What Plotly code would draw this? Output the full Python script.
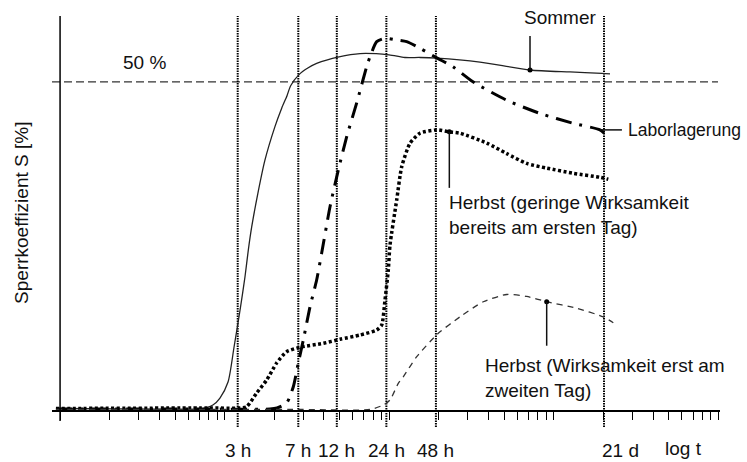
import math
import plotly.graph_objects as go

# Blocking coefficient S [%] versus storage time t (hours, log scale)

sommer_t = [0.236, 0.879, 1.77, 2.12, 2.34, 2.62, 2.85, 3.10, 3.32, 3.48, 3.65, 3.98, 4.39,
            5.05, 5.55, 5.98, 6.29, 7.07, 8.0, 9.05, 12.37, 16.6, 24.9, 31.1, 38.4, 48.7, 88.9,
            179, 313, 490, 548]
sommer_s = [0.38, 0.3, 0.3, 0.91, 1.97, 4.4, 9.72, 15.34, 20.35, 24.46, 28.0, 33.1, 38.1,
            43.2, 46.0, 47.9, 49.4, 51.1, 52.1, 52.8, 53.8, 54.3, 54.1, 53.7, 53.7, 53.6, 53.0,
            51.8, 51.5, 51.3, 51.2]

labor_t = [0.236, 1.77, 4.71, 5.20, 5.95, 6.53, 7.00, 7.51, 8.25, 9.05, 9.71, 10.91, 12.25,
           13.78, 15.85, 18.22, 19.09, 20.96, 23.54, 27.73, 31.88, 38.4, 48.9, 60.9, 80.6,
           129.2, 205.8, 328, 476, 525]
labor_s = [0.3, 0.3, 0.3, 0.46, 1.22, 3.69, 7.29, 10.78, 15.84, 19.9, 24.0, 31.03, 36.6,
           41.67, 46.8, 52.3, 53.8, 56.1, 56.6, 56.35, 56.1, 55.1, 53.6, 52.3, 50.0,
           47.2, 45.2, 43.7, 42.7, 41.8]

herbst1_t = [0.236, 1.77, 3.10, 3.40, 3.91, 4.50, 5.17, 5.95, 7.17, 9.93, 12.54, 16.6, 20.96,
             22.48, 23.54, 24.65, 25.25, 27.73, 29.74, 33.4, 38.4, 48.5, 57.9, 67.2, 97.7,
             129.2, 170.9, 226, 328, 476, 535]
herbst1_s = [0.38, 0.46, 0.46, 0.65, 2.73, 4.71, 7.29, 9.0, 9.68, 10.28, 10.89, 11.54, 12.3,
             13.06, 16.86, 21.4, 25.2, 32.05, 37.1, 40.66, 42.2, 42.7, 42.4, 42.2, 40.7,
             39.1, 37.6, 36.9, 36.1, 35.5, 35.2]

herbst2_t = [0.236, 1.77, 7.17, 19.09, 23.0, 25.25, 28.35, 30.41, 36.7, 49.6, 67.2, 93.1,
             129.2, 170.9, 226, 344, 499, 574]
herbst2_s = [0.23, 0.23, 0.23, 0.23, 0.91, 1.67, 4.2, 5.2, 8.25, 11.8, 14.3, 16.6,
             17.7, 17.4, 16.6, 15.6, 14.3, 13.4]

event_hours = [3, 7, 12, 24, 48, 504]
event_labels = ["3 h", "7 h", "12 h", "24 h", "48 h", "21 d"]

threshold = 50
threshold_label = "50 %"
y_title = "Sperrkoeffizient S [%]"
x_title = "log t"

# points on the curves that carry a callout marker
SOMMER_MARK = sommer_t.index(179)
HERBST1_MARK = herbst1_t.index(57.9)
HERBST2_MARK = herbst2_t.index(226)
LABOR_MARK = labor_t.index(476)

TICK_BASE = 0.25
tick_hours = [TICK_BASE * k * 10 ** n for n in range(4) for k in range(1, 10)] + [TICK_BASE * 10 ** 4]

X_RANGE = [math.log10(0.2233), math.log10(2553)]
Y_RANGE = [-2.43, 60]

FONT = "Liberation Sans, Arial, sans-serif"
TXT = dict(family=FONT, size=19, color="#111")

fig = go.Figure()

fig.add_trace(go.Scatter(x=sommer_t, y=sommer_s, mode="lines",
                         line=dict(color="#222", width=1.3, shape="spline", smoothing=0.7)))
fig.add_trace(go.Scatter(x=labor_t, y=labor_s, mode="lines",
                         line=dict(color="black", width=3, dash="16px,8px,3px,8px",
                                   shape="spline", smoothing=0.6)))
fig.add_trace(go.Scatter(x=herbst1_t, y=herbst1_s, mode="lines",
                         line=dict(color="black", width=3.5, dash="3px,2.5px",
                                   shape="spline", smoothing=0.6)))
fig.add_trace(go.Scatter(x=herbst2_t, y=herbst2_s, mode="lines",
                         line=dict(color="#333", width=1.3, dash="6px,5px",
                                   shape="spline", smoothing=0.6)))

# callout dots
fig.add_trace(go.Scatter(
    x=[sommer_t[SOMMER_MARK], herbst1_t[HERBST1_MARK], herbst2_t[HERBST2_MARK]],
    y=[sommer_s[SOMMER_MARK], herbst1_s[HERBST1_MARK], herbst2_s[HERBST2_MARK]],
    mode="markers", marker=dict(color="black", size=5)))

shapes = []
# event time markers
for h in event_hours:
    shapes.append(dict(type="line", xref="x", yref="y", x0=h, x1=h, y0=Y_RANGE[0], y1=Y_RANGE[1],
                       line=dict(color="black", width=2, dash="1.5px,1px"), layer="below"))
# 50 % reference line
shapes.append(dict(type="line", xref="paper", yref="y", x0=0, x1=0.997, y0=threshold, y1=threshold,
                   line=dict(color="#333", width=1.4, dash="8px,4px"), layer="below"))
# ordinate line
shapes.append(dict(type="line", xref="x", yref="y", x0=TICK_BASE, x1=TICK_BASE, y0=-1.5, y1=Y_RANGE[1],
                   line=dict(color="black", width=1.5)))

# callout leaders (pixel lengths anchored at the curve points)
def leader(xv, yv, dy_px):
    return dict(type="line", xref="x", yref="y", ysizemode="pixel", yanchor=yv,
                x0=xv, x1=xv, y0=0, y1=dy_px, line=dict(color="#111", width=1.5))

shapes.append(leader(sommer_t[SOMMER_MARK], sommer_s[SOMMER_MARK], 34))
shapes.append(leader(herbst1_t[HERBST1_MARK], herbst1_s[HERBST1_MARK], -56))
shapes.append(leader(herbst2_t[HERBST2_MARK], herbst2_s[HERBST2_MARK], -44))
shapes.append(dict(type="line", xref="x", yref="y", xsizemode="pixel", xanchor=labor_t[LABOR_MARK],
                   x0=0, x1=22, y0=labor_s[LABOR_MARK], y1=labor_s[LABOR_MARK],
                   line=dict(color="#111", width=1.5)))

annotations = []
for h, lab in zip(event_hours, event_labels):
    is_day = lab.endswith("d")
    annotations.append(dict(x=math.log10(h), y=-0.0852, xref="x", yref="paper", text=lab,
                            showarrow=False, font=TXT, borderpad=0,
                            xanchor="left" if is_day else "center",
                            xshift=-3 if is_day else 0,
                            yanchor="bottom"))
annotations += [
    dict(x=math.log10(1542), y=-0.0852, xref="x", yref="paper", text=x_title, showarrow=False,
         font=TXT, borderpad=0, xanchor="center", yanchor="bottom", yshift=2),
    dict(x=math.log10(0.809), y=52.9, xref="x", yref="y", text=threshold_label, showarrow=False,
         font=TXT, xanchor="center", yanchor="middle"),
    dict(x=-0.0457, y=0.522, xref="paper", yref="paper", text=y_title, textangle=-90,
         showarrow=False, font=TXT, xanchor="center", yanchor="middle"),
    dict(x=math.log10(272), y=59.7, xref="x", yref="y", text="Sommer", showarrow=False,
         font=TXT, xanchor="center", yanchor="middle"),
    dict(x=math.log10(690), y=labor_s[LABOR_MARK], xref="x", yref="y", text="Laborlagerung",
         showarrow=False, font=dict(family=FONT, size=17.5, color="#111"),
         xanchor="left", yanchor="middle"),
    dict(x=math.log10(56.3), y=29.7, xref="x", yref="y",
         text="Herbst (geringe Wirksamkeit<br>bereits am ersten Tag)", showarrow=False,
         font=TXT, xanchor="left", yanchor="middle", align="left"),
    dict(x=math.log10(92.7), y=4.97, xref="x", yref="y",
         text="Herbst (Wirksamkeit erst am<br>zweiten Tag)", showarrow=False,
         font=TXT, xanchor="left", yanchor="middle", align="left"),
]

fig.update_layout(
    width=747, height=462,
    margin=dict(l=52, r=27, t=16, b=35),
    paper_bgcolor="white", plot_bgcolor="white",
    showlegend=False,
    font=dict(family=FONT),
    shapes=shapes,
    annotations=annotations,
    xaxis=dict(type="log", range=X_RANGE, showgrid=False, zeroline=False,
               anchor="free", position=(0 - Y_RANGE[0]) / (Y_RANGE[1] - Y_RANGE[0]),
               showline=True, linecolor="black", linewidth=1.5,
               tickmode="array", tickvals=tick_hours, showticklabels=False,
               ticks="outside", ticklen=8, tickwidth=1, tickcolor="black"),
    yaxis=dict(range=Y_RANGE, showgrid=False, zeroline=False, showline=False,
               showticklabels=False, ticks=""),
)

fig.write_html("out.html")
